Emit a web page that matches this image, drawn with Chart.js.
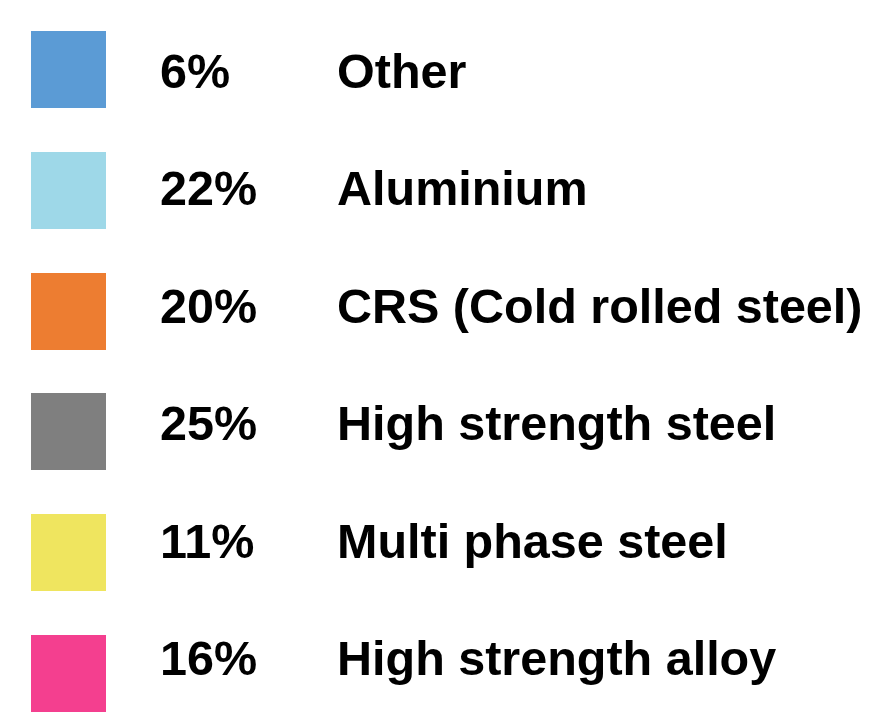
<!DOCTYPE html>
<html>
<head>
<meta charset="utf-8">
<script src="https://cdn.jsdelivr.net/npm/chart.js@4.4.1/dist/chart.umd.min.js"></script>
<style>
    html, body { margin: 0; padding: 0; background: #ffffff; }
    #wrap { width: 876px; height: 725px; position: relative; }
</style>
</head>
<body>
<div id="wrap"><canvas id="materialChart"></canvas></div>
<script>
// Material share data
const materials = ['Other', 'Aluminium', 'CRS (Cold rolled steel)', 'High strength steel', 'Multi phase steel', 'High strength alloy'];
const shares = [6, 22, 20, 25, 11, 16];
const colors = ['#5b9bd5', '#9ed8e8', '#ed7d31', '#7f7f7f', '#efe55f', '#f43f8f'];

// Draws the legend rows (swatch, percent, name) from the chart data
const legendRows = {
    id: 'legendRows',
    afterDraw(chart) {
        const ctx = chart.ctx;
        const ds = chart.data.datasets[0];
        const boxTop = 31, boxPitch = 120.8;
        const textBase = 88, textPitch = 117.4;

        ctx.save();
        ctx.font = 'bold 48.5px "Liberation Sans", Arial, sans-serif';
        ctx.textAlign = 'left';
        ctx.textBaseline = 'alphabetic';
        chart.data.labels.forEach((label, i) => {
            ctx.fillStyle = ds.backgroundColor[i];
            ctx.fillRect(31, Math.round(boxTop + i * boxPitch), 75, 77);

            const y = textBase + i * textPitch;
            ctx.fillStyle = '#000000';
            ctx.fillText(ds.data[i] + '%', 160, y);
            ctx.fillText(label, 337, y);
        });
        ctx.restore();
    }
};

const chartCtx = document.getElementById('materialChart').getContext('2d');
const materialChart = new Chart(chartCtx, {
    type: 'doughnut',
    data: {
        labels: materials,
        datasets: [{
            data: shares,
            backgroundColor: colors,
            borderWidth: 0
        }]
    },
    options: {
        responsive: true,
        maintainAspectRatio: false,
        animation: false,
        radius: 0, // only the legend is shown in this figure
        events: [],
        plugins: {
            legend: { display: false },
            tooltip: { enabled: false }
        }
    },
    plugins: [legendRows]
});
</script>
</body>
</html>
